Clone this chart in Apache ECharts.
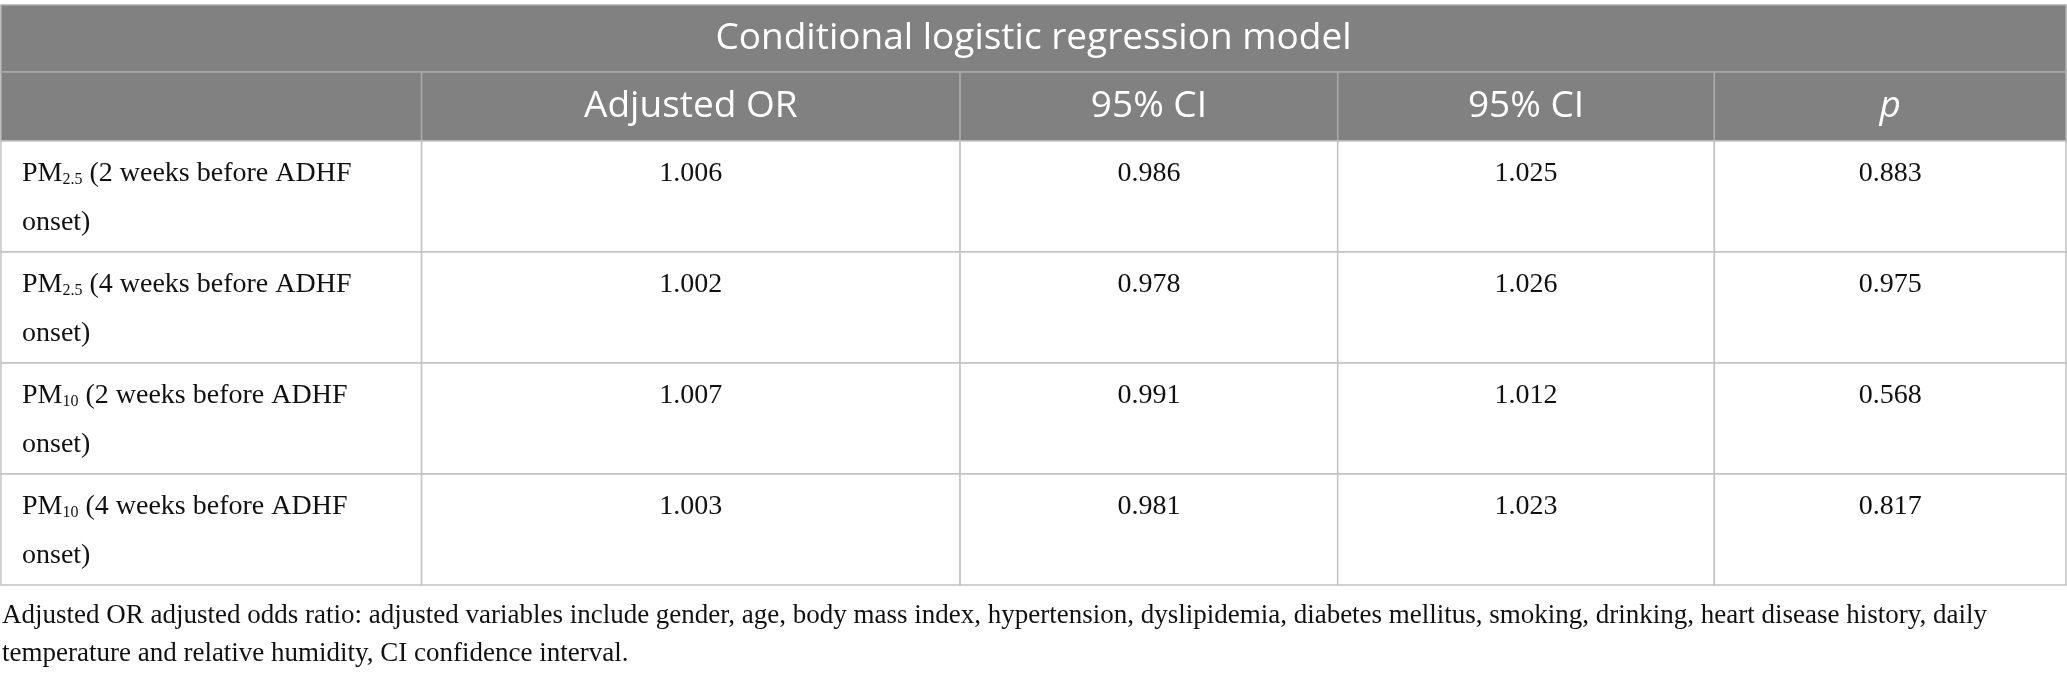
<!DOCTYPE html>
<html>
<head>
<meta charset="utf-8">
<title>Conditional logistic regression model</title>
<script src="https://cdn.jsdelivr.net/npm/echarts@6.0.0/dist/echarts.min.js"></script>
<style>
	html, body { margin: 0; padding: 0; background: #fff; }
	#table_chart { width: 2067px; height: 676px; }
</style>
</head>
<body>
<div id="table_chart"></div>
<script>
// table content
var tableTitle = 'Conditional logistic regression model';
var columnNames = ['', 'Adjusted OR', '95% CI', '95% CI', 'p'];
var pollutantSub = ['2.5', '2.5', '10', '10'];
var exposureWindow = ['2 weeks', '4 weeks', '2 weeks', '4 weeks'];
var adjustedOR = [1.006, 1.002, 1.007, 1.003];
var ciLower = [0.986, 0.978, 0.991, 0.981];
var ciUpper = [1.025, 1.026, 1.012, 1.023];
var pValue = [0.883, 0.975, 0.568, 0.817];
var footnoteLines = [
	'Adjusted OR adjusted odds ratio: adjusted variables include gender, age, body mass index, hypertension, dyslipidemia, diabetes mellitus, smoking, drinking, heart disease history, daily',
	'temperature and relative humidity, CI confidence interval.'
];

// layout (column widths / row heights in px)
var colWidth = [421, 539, 378, 377, 352];
var rowHeight = [67, 69, 111, 111, 111, 111];

var chart1 = {};

function edges(sizes) {
	var out = [0];
	for (var i = 0; i < sizes.length; i++) out.push(out[i] + sizes[i]);
	return out;
}
var colEdge = edges(colWidth);
var rowEdge = edges(rowHeight);

var SANS = '"Open Sans", "Noto Sans", sans-serif';
var SERIF = '"Liberation Serif", "DejaVu Serif", serif';
var INK = '#111111';

function buildCells() {
	var cells = [];
	cells.push({ row: 0, col: 0, span: 5, kind: 'title', text: tableTitle });
	for (var c = 0; c < columnNames.length; c++) {
		cells.push({ row: 1, col: c, span: 1, kind: 'head', text: columnNames[c], italic: columnNames[c] === 'p' });
	}
	for (var r = 0; r < adjustedOR.length; r++) {
		cells.push({
			row: r + 2, col: 0, span: 1, kind: 'label',
			text: '{n|PM}{s|' + pollutantSub[r] + '}{n| (' + exposureWindow[r] + ' before ADHF}\n{n|onset)}'
		});
		var vals = [adjustedOR[r], ciLower[r], ciUpper[r], pValue[r]];
		for (var k = 0; k < vals.length; k++) {
			cells.push({ row: r + 2, col: k + 1, span: 1, kind: 'num', text: vals[k].toFixed(3) });
		}
	}
	return cells;
}

function tableInit() {
	var dom = document.getElementById('table_chart');
	chart1 = echarts.init(dom, null, { renderer: 'canvas' });
	var cells = buildCells();

	function renderCell(params, api) {
		var cell = cells[params.dataIndex];
		var p0 = api.coord([colEdge[cell.col], rowEdge[cell.row]]);
		var p1 = api.coord([colEdge[cell.col + cell.span], rowEdge[cell.row + 1]]);
		var w = p1[0] - p0[0], h = p1[1] - p0[1];
		var dark = cell.kind === 'title' || cell.kind === 'head';
		var children = [{
			type: 'rect',
			shape: { x: p0[0], y: p0[1], width: w, height: h },
			style: { fill: dark ? '#808180' : '#ffffff', stroke: dark ? '#a9aaa9' : '#c2c2c2', lineWidth: 1.5 }
		}];
		if (dark) {
			children.push({
				type: 'text',
				style: {
					text: cell.text, x: p0[0] + w / 2, y: p0[1] + h / 2,
					align: 'center', verticalAlign: 'middle',
					fill: '#ffffff', fontSize: 37, fontFamily: SANS,
					fontStyle: cell.italic ? 'italic' : 'normal'
				}
			});
		} else if (cell.kind === 'label') {
			children.push({
				type: 'text',
				style: {
					text: cell.text, x: p0[0] + 21, y: p0[1] + 8,
					align: 'left', verticalAlign: 'top',
					rich: {
						n: { fontSize: 28, fontFamily: SERIF, lineHeight: 49, fill: INK },
						s: { fontSize: 16, fontFamily: SERIF, verticalAlign: 'middle', padding: [12, 0, 0, 0], fill: INK }
					}
				}
			});
		} else {
			children.push({
				type: 'text',
				style: {
					text: cell.text, x: p0[0] + w / 2, y: p0[1] + 8,
					align: 'center', verticalAlign: 'top',
					fontSize: 28, fontFamily: SERIF, lineHeight: 49, fill: INK
				}
			});
		}
		return { type: 'group', children: children };
	}

	var option = {
		backgroundColor: '#ffffff',
		animation: false,
		grid: { left: 1, right: 1, top: 5, bottom: 676 - 5 - rowEdge[rowEdge.length - 1] },
		xAxis: { type: 'value', min: 0, max: colEdge[colEdge.length - 1], show: false },
		yAxis: { type: 'value', min: 0, max: rowEdge[rowEdge.length - 1], inverse: true, show: false },
		graphic: [{
			type: 'text',
			left: 2,
			top: 597,
			style: {
				text: footnoteLines.join('\n'),
				fontSize: 27, fontFamily: SERIF, lineHeight: 38, fill: INK
			}
		}],
		series: [{
			type: 'custom',
			clip: false,
			silent: true,
			renderItem: renderCell,
			data: cells.map(function (c) { return [c.col, c.row, c.span]; })
		}]
	};
	chart1.setOption(option);
}

tableInit();

window.addEventListener('resize', function () {
	chart1.resize();
});
</script>
</body>
</html>
